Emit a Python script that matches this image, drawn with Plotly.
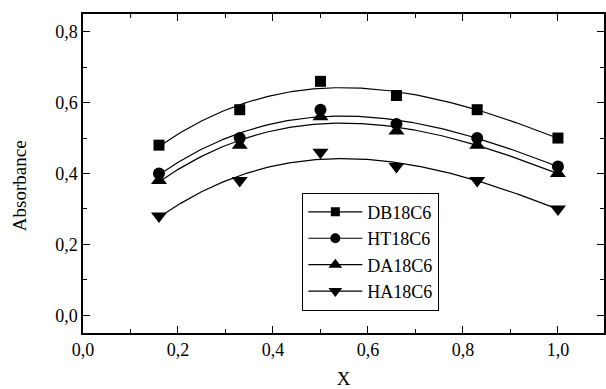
import numpy as np
import plotly.graph_objects as go

x_vals = [0.16, 0.33, 0.50, 0.66, 0.83, 1.00]
db18c6 = [0.48, 0.58, 0.66, 0.62, 0.58, 0.50]
ht18c6 = [0.40, 0.50, 0.58, 0.54, 0.50, 0.42]
da18c6 = [0.38, 0.48, 0.56, 0.52, 0.48, 0.40]
ha18c6 = [0.28, 0.38, 0.46, 0.42, 0.38, 0.30]

series_names = ["DB18C6", "HT18C6", "DA18C6", "HA18C6"]
series_vals = [db18c6, ht18c6, da18c6, ha18c6]
symbols = ["square", "circle", "triangle-up", "triangle-down"]
marker_sizes = [11, 12, 14, 14]

x_ticks = [0.0, 0.2, 0.4, 0.6, 0.8, 1.0]
x_tick_text = ["0,0", "0,2", "0,4", "0,6", "0,8", "1,0"]
y_ticks = [0.0, 0.2, 0.4, 0.6, 0.8]
y_tick_text = ["0,0", "0,2", "0,4", "0,6", "0,8"]

FONT = "Liberation Serif"

fig = go.Figure()
xs = np.linspace(min(x_vals), max(x_vals), 200)
for name, vals, sym, ms in zip(series_names, series_vals, symbols, marker_sizes):
    coef = np.polyfit(x_vals, vals, 3)
    fig.add_trace(go.Scatter(x=xs, y=np.polyval(coef, xs), mode="lines",
                             line=dict(color="black", width=1.2),
                             showlegend=False, hoverinfo="skip"))
    fig.add_trace(go.Scatter(x=x_vals, y=vals, mode="markers",
                             marker=dict(symbol=sym, size=ms, color="black"),
                             showlegend=False))
    fig.add_trace(go.Scatter(x=[None], y=[None], mode="lines+markers", name=name,
                             line=dict(color="black", width=1.2),
                             marker=dict(symbol=sym, size=ms - 2, color="black")))

axis_common = dict(showline=True, linecolor="black", linewidth=1.5, mirror="allticks",
                   ticks="inside", ticklen=7, tickwidth=1.3, tickcolor="black",
                   showgrid=False, zeroline=False,
                   tickfont=dict(family=FONT, size=18, color="black"))

fig.update_xaxes(range=[0, 1.097], tickvals=x_ticks, ticktext=x_tick_text,
                 minor=dict(ticks="inside", ticklen=4, tickwidth=1.3, dtick=0.1,
                            tick0=0.1, tickcolor="black", showgrid=False),
                 title=dict(text="X", font=dict(family=FONT, size=19, color="black"), standoff=12),
                 **axis_common)
fig.update_yaxes(range=[-0.05, 0.85], tickvals=y_ticks, ticktext=y_tick_text,
                 minor=dict(ticks="inside", ticklen=4, tickwidth=1.3, dtick=0.1,
                            tick0=0.1, tickcolor="black", showgrid=False),
                 **axis_common)

fig.add_annotation(text="Absorbance", textangle=-90, xref="paper", yref="paper",
                   x=-0.1205, y=0.461, xanchor="center", yanchor="middle",
                   showarrow=False, font=dict(family=FONT, size=19, color="black"))

fig.update_layout(
    width=606, height=389,
    margin=dict(l=83, r=0, t=14, b=56),
    paper_bgcolor="white", plot_bgcolor="white",
    font=dict(family=FONT, color="black"),
    legend=dict(x=0.421, y=0.44, xanchor="left", yanchor="top",
                bordercolor="black", borderwidth=1, bgcolor="white",
                font=dict(family=FONT, size=18, color="black"),
                itemwidth=54, tracegroupgap=0),
)

fig.write_html("out.html")
